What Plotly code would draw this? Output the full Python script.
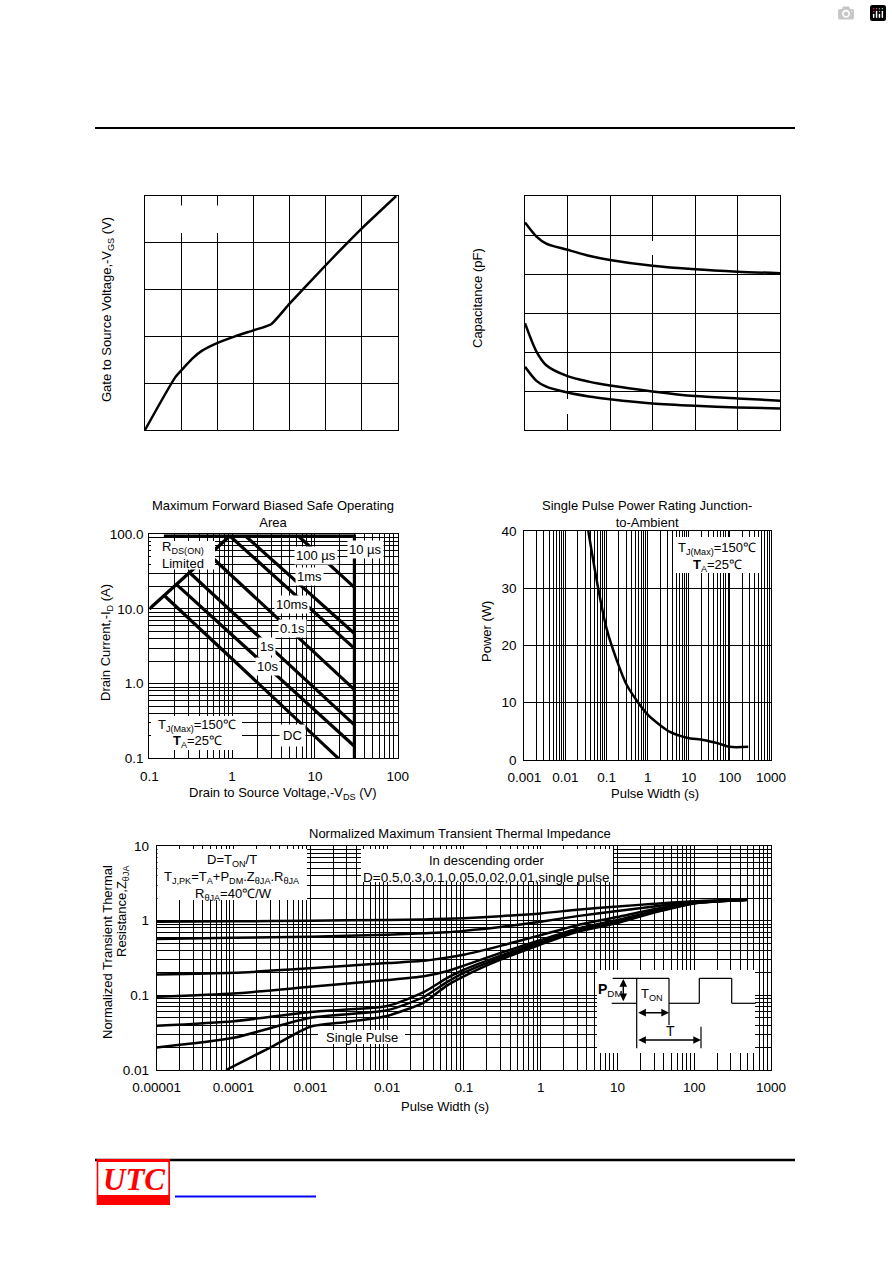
"""MOSFET datasheet page: five characteristic charts drawn with Plotly.

All charts share one paper (892 x 1263 px); positions below are given in
page pixels and converted to paper fractions by small helpers.
"""

import plotly.graph_objects as go

W, H = 892, 1263
FONT = "Arial, Liberation Sans, sans-serif"

# ---------------------------------------------------------------------------
# Data
# ---------------------------------------------------------------------------

# Gate charge style curve (grid units, 7 x 5 divisions, labels erased)
vgs_x = [0, 0.84, 1.12, 1.30, 1.57, 2.01, 2.49, 3.0, 3.49, 4.0, 5.0, 5.6, 6.0, 6.95]
vgs_y = [0, 1.13, 1.37, 1.52, 1.69, 1.86, 2.0, 2.13, 2.26, 2.7, 3.52, 4.0, 4.31, 5.0]

# Capacitance curves (grid units, 6 x 6 divisions)
cap_x = [0, 0.27, 0.5, 1.0, 1.5, 2.0, 3.0, 4.0, 5.0, 6.0]
ciss = [5.32, 4.96, 4.78, 4.62, 4.47, 4.36, 4.21, 4.12, 4.06, 4.02]
coss = [2.74, 2.01, 1.66, 1.38, 1.24, 1.14, 0.99, 0.87, 0.81, 0.75]
crss = [1.62, 1.26, 1.11, 0.96, 0.86, 0.79, 0.68, 0.62, 0.58, 0.55]

# Safe operating area (V, A)
soa_rds_v = [0.1, 0.94]
soa_rds_i = [10.0, 95.0]
soa_limit_v = [0.15, 30.0, 30.0]
soa_limit_i = [95.0, 95.0, 0.1]
soa_100us_v = [6.3, 30.0]
soa_100us_i = [95.0, 19.5]
soa_1ms_v = [1.45, 30.0]
soa_1ms_i = [95.0, 4.7]
soa_10ms_v = [0.94, 30.0]
soa_10ms_i = [95.0, 2.97]
soa_100ms_v = [0.54, 30.0]
soa_100ms_i = [52.0, 0.83]
soa_1s_v = [0.31, 30.0]
soa_1s_i = [30.3, 0.28]
soa_10s_v = [0.214, 30.0]
soa_10s_i = [21.2, 0.145]
soa_dc_v = [0.155, 19.2]
soa_dc_i = [14.8, 0.1]
soa_xticks = ["0.1", "1", "10", "100"]
soa_yticks = ["0.1", "1.0", "10.0", "100.0"]

# Single pulse power rating (s, W)
pw_t = [0.036, 0.063, 0.1, 0.176, 0.31, 0.95, 2.0, 3.5, 8.9, 22.6, 52, 100, 280]
pw_p = [40, 29.9, 23, 17.5, 13.1, 8.1, 6.1, 4.9, 3.9, 3.5, 2.9, 2.3, 2.3]
pw_xticks = ["0.001", "0.01", "0.1", "1", "10", "100", "1000"]
pw_yticks = [0, 10, 20, 30, 40]

# Normalized transient thermal impedance
zth_t = [1e-5, 1e-4, 1e-3, 1e-2, 0.03, 0.06, 0.1, 0.3, 1, 3, 10, 30, 100, 500]
zth_d05 = [0.97, 0.98, 1.0, 1.02, 1.04, 1.06, 1.08, 1.15, 1.25, 1.4, 1.55, 1.68, 1.82, 1.9]
zth_d03 = [0.57, 0.59, 0.61, 0.65, 0.68, 0.7, 0.73, 0.82, 0.97, 1.15, 1.35, 1.55, 1.78, 1.9]
zth_d01 = [0.19, 0.2, 0.23, 0.27, 0.29, 0.32, 0.35, 0.46, 0.64, 0.87, 1.12, 1.42, 1.75, 1.9]
zth_d005 = [0.096, 0.106, 0.13, 0.16, 0.18, 0.21, 0.25, 0.37, 0.55, 0.78, 1.02, 1.35, 1.73, 1.9]
zth_d002 = [0.039, 0.045, 0.06, 0.072, 0.11, 0.17, 0.22, 0.34, 0.52, 0.75, 0.98, 1.32, 1.72, 1.9]
zth_d001 = [0.02, 0.027, 0.05, 0.063, 0.095, 0.15, 0.2, 0.32, 0.5, 0.73, 0.95, 1.3, 1.71, 1.9]
zth_sp_t = [8e-5, 3e-4, 1e-3, 3e-3, 1e-2, 0.03, 0.06, 0.1, 0.3, 1, 3, 10, 30, 100, 500]
zth_sp = [0.01, 0.02, 0.038, 0.044, 0.053, 0.08, 0.135, 0.18, 0.3, 0.48, 0.71, 0.93, 1.28, 1.7, 1.9]
zth_xticks = ["0.00001", "0.0001", "0.001", "0.01", "0.1", "1", "10", "100", "1000"]
zth_yticks = ["0.01", "0.1", "1", "10"]


# ---------------------------------------------------------------------------
# Helpers (page pixels -> paper fractions)
# ---------------------------------------------------------------------------

def px(x):
    return x / W


def py(y):
    return 1 - y / H


def dom_x(left, right):
    return [px(left), px(right)]


def dom_y(top, bottom):
    return [py(bottom), py(top)]


def log_ticks(lo_exp, labels):
    """Tick every 1..9 x decade (for the dense log grid), label decades only."""
    vals, text = [], []
    for k, lab in enumerate(labels[:-1]):
        e = lo_exp + k
        for m in range(1, 10):
            vals.append(m * 10.0 ** e)
            text.append(lab if m == 1 else "")
    vals.append(10.0 ** (lo_exp + len(labels) - 1))
    text.append(labels[-1])
    return vals, text


def note(x, y, text, size=13, bg=None, angle=0, xanchor="center",
         yanchor="middle", pad=1, **kw):
    return dict(
        xref="paper", yref="paper", x=px(x), y=py(y), text=text,
        showarrow=False, textangle=angle, xanchor=xanchor, yanchor=yanchor,
        font=dict(family=FONT, size=size, color="black"),
        bgcolor=bg if bg else "rgba(0,0,0,0)", borderpad=pad, **kw,
    )


def rect(x0, y0, x1, y1, fill="white", layer="above"):
    return dict(
        type="rect", xref="paper", yref="paper",
        x0=px(x0), x1=px(x1), y0=py(y1), y1=py(y0),
        fillcolor=fill, line=dict(width=0), layer=layer,
    )


def seg(x0, y0, x1, y1, color="black", width=1.2):
    return dict(
        type="line", xref="paper", yref="paper",
        x0=px(x0), x1=px(x1), y0=py(y0), y1=py(y1),
        line=dict(color=color, width=width), layer="above",
    )


def arrow(x_tip, y_tip, x_tail, y_tail):
    return dict(
        xref="paper", yref="paper", x=px(x_tip), y=py(y_tip),
        axref="pixel", ayref="pixel", ax=x_tail - x_tip, ay=y_tail - y_tip,
        text="", showarrow=True, arrowhead=2, arrowsize=1.1, arrowwidth=1.4,
        arrowside="end+start", arrowcolor="black",
    )


AX = dict(
    showline=True, mirror=True, linecolor="black", linewidth=1,
    showgrid=True, gridcolor="black", gridwidth=1, zeroline=False,
    ticks="", fixedrange=True, automargin=False,
    tickfont=dict(family=FONT, size=13.5, color="black"),
)


def curve(fig, x, y, axis, width=2.5, shape="linear", smoothing=None):
    line = dict(color="black", width=width, shape=shape)
    if smoothing is not None:
        line["smoothing"] = smoothing
    fig.add_trace(go.Scatter(
        x=x, y=y, mode="lines", line=line,
        xaxis="x" + axis, yaxis="y" + axis,
        hoverinfo="skip", showlegend=False,
    ))


# ---------------------------------------------------------------------------
# Figure
# ---------------------------------------------------------------------------

fig = go.Figure()

# Top-left and top-right (unlabelled grids)
curve(fig, vgs_x, vgs_y, "", shape="spline", smoothing=0.5)
for ys in (ciss, coss, crss):
    curve(fig, cap_x, ys, "2", shape="spline", smoothing=0.8)

# SOA
for v, i in [
    (soa_limit_v, soa_limit_i), (soa_rds_v, soa_rds_i),
    (soa_100us_v, soa_100us_i), (soa_1ms_v, soa_1ms_i),
    (soa_10ms_v, soa_10ms_i), (soa_100ms_v, soa_100ms_i),
    (soa_1s_v, soa_1s_i), (soa_10s_v, soa_10s_i), (soa_dc_v, soa_dc_i),
]:
    curve(fig, v, i, "3", width=3.2)

# Power
curve(fig, pw_t, pw_p, "4", shape="spline", smoothing=0.8)

# Thermal
for zs in (zth_d05, zth_d03, zth_d01, zth_d005, zth_d002, zth_d001):
    curve(fig, zth_t, zs, "5", shape="spline", smoothing=0.6)
curve(fig, zth_sp_t, zth_sp, "5", shape="spline", smoothing=0.6)

soa_xv, soa_xt = log_ticks(-1, soa_xticks)
soa_yv, soa_yt = log_ticks(-1, soa_yticks)
pw_xv, pw_xt = log_ticks(-3, pw_xticks)
zth_xv, zth_xt = log_ticks(-5, zth_xticks)
zth_yv, zth_yt = log_ticks(-2, zth_yticks)

fig.update_layout(
    width=W, height=H, autosize=False,
    margin=dict(l=0, r=0, t=0, b=0, pad=0, autoexpand=False),
    paper_bgcolor="white", plot_bgcolor="white",
    showlegend=False,
    xaxis=dict(AX, domain=dom_x(145, 398), range=[0, 7], dtick=1,
               showticklabels=False, anchor="y"),
    yaxis=dict(AX, domain=dom_y(196, 430), range=[0, 5], dtick=1,
               showticklabels=False, anchor="x"),
    xaxis2=dict(AX, domain=dom_x(525, 780), range=[0, 6], dtick=1,
                showticklabels=False, anchor="y2"),
    yaxis2=dict(AX, domain=dom_y(196, 430), range=[0, 6], dtick=1,
                showticklabels=False, anchor="x2"),
    xaxis3=dict(AX, domain=dom_x(149.3, 397.7), type="log", range=[-1, 2],
                tickvals=soa_xv, ticktext=soa_xt, anchor="y3",
                ticklabelstandoff=5),
    yaxis3=dict(AX, domain=dom_y(534.3, 758.3), type="log", range=[-1, 2],
                tickvals=soa_yv, ticktext=soa_yt, anchor="x3",
                ticklabelstandoff=2),
    xaxis4=dict(AX, domain=dom_x(524.3, 771), type="log", range=[-3, 3],
                tickvals=pw_xv, ticktext=pw_xt, anchor="y4",
                ticklabelstandoff=5),
    yaxis4=dict(AX, domain=dom_y(531, 760), range=[0, 40],
                tickvals=pw_yticks, anchor="x4", ticklabelstandoff=4),
    xaxis5=dict(AX, domain=dom_x(156.7, 771), type="log", range=[-5, 3],
                tickvals=zth_xv, ticktext=zth_xt, anchor="y5",
                ticklabelstandoff=5),
    yaxis5=dict(AX, domain=dom_y(846, 1070), type="log", range=[-2, 1],
                tickvals=zth_yv, ticktext=zth_yt, anchor="x5",
                ticklabelstandoff=4),
)

# ---- white label boxes / erased areas and page decoration ----
shapes = [
    # page rules
    seg(95, 128, 795, 128, width=2),
    seg(95, 1160, 795, 1160, width=2.5),
    # erased label areas on the top grids
    rect(176, 205.5, 223, 233),
    rect(648, 241, 657, 255),
    rect(563, 399, 572, 414),
    # SOA boxes
    rect(151, 541, 215, 569.5),
    rect(151, 716, 242, 750),
    # power legend box
    rect(674, 537, 760, 573),
    # thermal boxes
    rect(157.5, 849, 307, 900),
    rect(361, 849, 613, 882),
    rect(318, 1030, 405, 1044),
    rect(597, 970, 755, 1053),
    # pulse diagram
    seg(612.7, 978.3, 669, 978.3),
    seg(611.7, 1003.3, 636.7, 1003.3),
    seg(636.7, 978.3, 636.7, 1048.3),
    seg(669, 978.3, 669, 1025),
    seg(669, 1003.3, 699.3, 1003.3),
    seg(699.3, 1003.3, 699.3, 978.3),
    seg(699.3, 978.3, 731.7, 978.3),
    seg(731.7, 978.3, 731.7, 1003.3),
    seg(731.7, 1003.3, 755.7, 1003.3),
    seg(701, 1026.7, 701, 1048.3),
    # UTC logo
    rect(96.7, 1159, 170, 1205, fill="#ff0000"),
    rect(98.3, 1162, 168.3, 1195, fill="white"),
    # hyperlink underline
    seg(175, 1196.6, 316, 1196.6, color="#0000ff", width=2),
]
fig.update_layout(shapes=shapes)

ann = [
    # axis titles, top charts
    note(108, 310, "Gate to Source Voltage,-V<sub>GS</sub> (V)", angle=-90),
    note(477, 298, "Capacitance (pF)", angle=-90),

    # SOA
    note(273, 514, "Maximum Forward Biased Safe Operating<br>Area"),
    note(106, 643, "Drain Current,-I<sub>D</sub> (A)", angle=-90),
    note(283, 793, "Drain to Source Voltage,-V<sub>DS</sub> (V)"),
    note(183, 555, "R<sub>DS(ON)</sub><br>Limited"),
    note(316, 555, "100 \u00b5s", bg="white"),
    note(365, 549, "10 \u00b5s", bg="white"),
    note(309, 576, "1ms", bg="white"),
    note(292, 604, "10ms", bg="white"),
    note(292, 628.5, "0.1s", bg="white"),
    note(267, 646, "1s", bg="white"),
    note(267, 666.5, "10s", bg="white"),
    note(292, 735, "DC", bg="white", pad=3),
    note(197, 725, "T<sub>J(Max)</sub>=150\u2103"),
    note(197, 741, "<b>T</b><sub>A</sub>=25\u2103"),

    # power
    note(647, 514, "Single Pulse Power Rating Junction-<br>to-Ambient"),
    note(486, 632, "Power (W)", angle=-90),
    note(655, 793, "Pulse Width (s)"),
    note(717, 548, "T<sub>J(Max)</sub>=150\u2103"),
    note(717, 565, "<b>T</b><sub>A</sub>=25\u2103"),

    # thermal
    note(460, 833, "Normalized Maximum Transient Thermal Impedance"),
    note(107, 863, "Normalized Transient Thermal", angle=-90, yanchor="top"),
    note(122, 863, "Resistance,Z<sub>\u03b8JA</sub>", angle=-90, yanchor="top"),
    note(445, 1106, "Pulse Width (s)"),
    note(232, 860, "D=T<sub>ON</sub>/T"),
    note(232, 877.5, "T<sub>J,PK</sub>=T<sub>A</sub>+P<sub>DM</sub>.Z<sub>\u03b8JA</sub>.R<sub>\u03b8JA</sub>"),
    note(234, 894.5, "R<sub>\u03b8JA</sub>=40\u2103/W"),
    note(487, 860, "In descending order"),
    note(487, 877, "D=0.5,0.3,0.1,0.05,0.02,0.01,single pulse", size=13.5),
    note(362, 1037, "Single Pulse"),

    # pulse diagram text
    note(610, 990, "<b>P</b><sub>DM</sub>", size=14),
    note(652, 994, "T<sub>ON</sub>"),
    note(670, 1031, "T", size=14),

    # logo
    dict(xref="paper", yref="paper", x=px(133.5), y=py(1179), text="<b><i>UTC</i></b>",
         showarrow=False, xanchor="center", yanchor="middle",
         font=dict(family="Liberation Serif, Times New Roman, serif", size=31,
                   color="#ff0000")),

    # arrows
    arrow(623.3, 979, 623.3, 1002.7),
    arrow(669, 1012.7, 636.7, 1012.7),
    arrow(701, 1040, 636.7, 1040),
]
fig.update_layout(annotations=ann)

fig.write_html("out.html", post_script="document.body.style.margin='0';")
